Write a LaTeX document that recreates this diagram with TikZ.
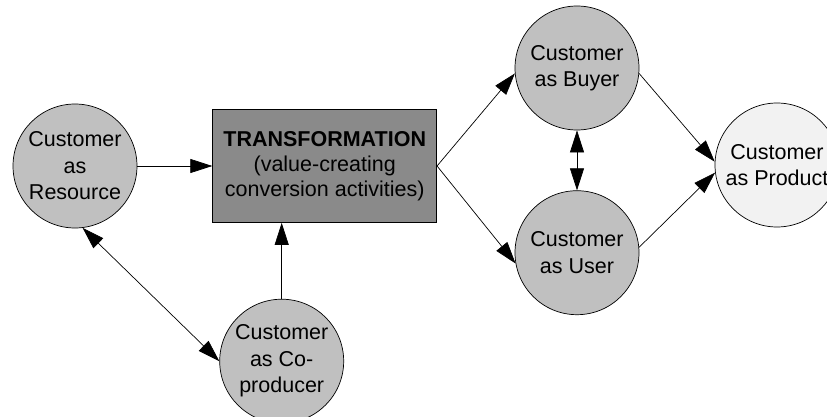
\documentclass[tikz,border=0pt]{standalone}
\usepackage{fontspec}
\setmainfont{Liberation Sans}
\usepackage{tikz}
\usetikzlibrary{positioning, arrows.meta}

\definecolor{rolegray}{RGB}{192,192,192}
\definecolor{stagegray}{RGB}{138,138,138}
\definecolor{prodgray}{RGB}{242,242,242}

\begin{document}
\begin{tikzpicture}[x=1pt, y=-1pt, line width=0.7pt,
	>={Triangle[length=22pt, width=14pt]},
	role/.style={circle, draw, fill=rolegray, minimum size=124pt, inner sep=0pt,
		align=center, font=\fontsize{21.5}{26.5}\selectfont},
	stage/.style={rectangle, draw, fill=stagegray, minimum width=224pt, minimum height=113pt,
		align=center, font=\fontsize{21.5}{25}\selectfont}]
	\useasboundingbox (0,0) rectangle (827,417);
	\clip (0,0) rectangle (827,417);

	\node[role] (res) at (75,166) {Customer\\as\\Resource};
	\node[stage] (trans) [right=75pt of res] {\textbf{TRANSFORMATION}\\(value-creating\\conversion activities)};
	\node[role] (coprod) [below=76pt of trans.south, xshift=-43pt] {Customer\\as Co-\\producer};
	\node[role] (buyer) at (577,68) {Customer\\as Buyer};
	\node[role] (user) [below=60pt of buyer] {Customer\\as User};
	\node[role, fill=prodgray] (prod) at (777,165) {Customer\\as Product};

	\path[->]
		(res) edge (trans)
		(coprod) edge (coprod |- trans.south)
		(trans.east) edge (buyer.185)
		(trans.east) edge (user.190)
		(buyer.355) edge (prod.177)
		(user.5) edge (prod.187)
	;
	\path[<->]
		(res.277) edge (coprod.west)
		(buyer) edge (user)
	;
\end{tikzpicture}
\end{document}
